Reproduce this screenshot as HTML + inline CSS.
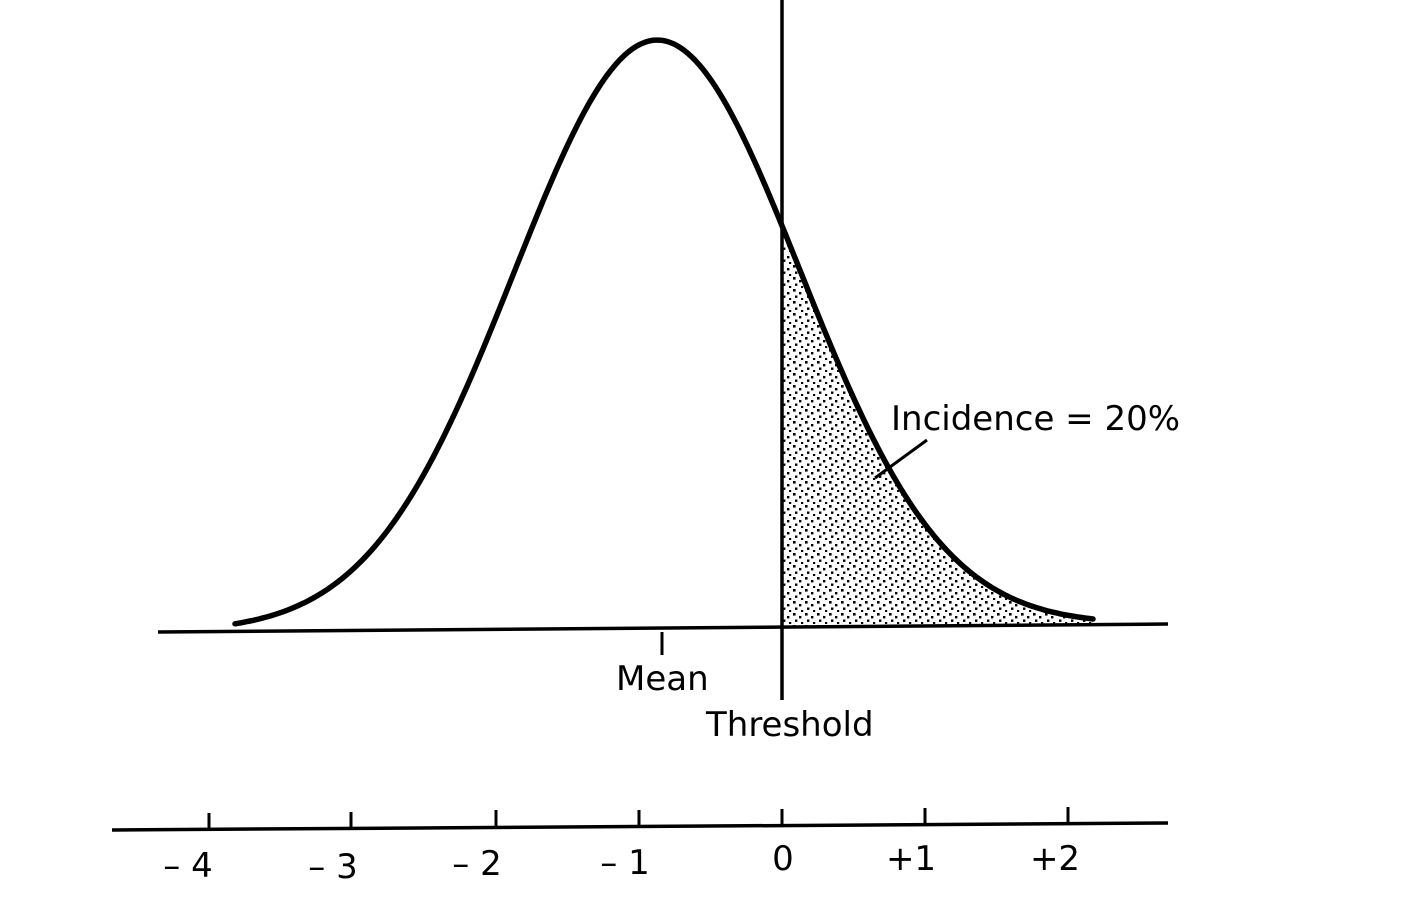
<!DOCTYPE html>
<html><head><meta charset="utf-8"><style>
html,body{margin:0;padding:0;background:#fff;}
svg{display:block}
text{font-family:"DejaVu Sans","Liberation Sans",sans-serif;fill:#000}
</style></head><body>
<svg id="s" width="1414" height="902" viewBox="0 0 1414 902">
<defs>
<pattern id="dots" width="12" height="12" patternUnits="userSpaceOnUse">
<rect x="1" y="1" width="2.6" height="2.6" fill="#000"/>
<rect x="7" y="4" width="2.4" height="2.4" fill="#000"/>
<rect x="3" y="7.5" width="2.4" height="2.4" fill="#000"/>
<rect x="9" y="10" width="2.2" height="2.2" fill="#000"/>
</pattern>
</defs>
<path id="shade" fill="url(#dots)" stroke="none"/>
<path id="curve" fill="none" stroke="#000" stroke-width="5.5" stroke-linecap="round"/>
<line x1="158" y1="632" x2="1168" y2="624" stroke="#000" stroke-width="3.5"/>
<line x1="782" y1="0" x2="782" y2="700" stroke="#000" stroke-width="3.5"/>
<line x1="662" y1="632" x2="662" y2="655" stroke="#000" stroke-width="3"/>
<line x1="875" y1="478" x2="927" y2="440" stroke="#000" stroke-width="3"/>
<text x="891" y="430" font-size="34">Incidence = 20%</text>
<text x="616" y="690" font-size="34">Mean</text>
<text x="706" y="736" font-size="34">Threshold</text>
<line x1="112" y1="830" x2="1168" y2="823" stroke="#000" stroke-width="3.5"/>
<g stroke="#000" stroke-width="3">
<line x1="209" y1="829" x2="209" y2="813"/>
<line x1="351" y1="828" x2="351" y2="812"/>
<line x1="496" y1="827" x2="496" y2="810"/>
<line x1="639" y1="826" x2="639" y2="810"/>
<line x1="782" y1="825" x2="782" y2="809"/>
<line x1="925" y1="824" x2="925" y2="808"/>
<line x1="1068" y1="823" x2="1068" y2="807"/>
</g>
<g font-size="34" text-anchor="middle">
<text x="188" y="877">– 4</text>
<text x="333" y="878">– 3</text>
<text x="477" y="875">– 2</text>
<text x="625" y="874">– 1</text>
<text x="783" y="870">0</text>
<text x="911" y="870">+1</text>
<text x="1055" y="870">+2</text>
</g>
</svg>
<script>
var mu=657,sg=143,H=588;
function y(x){var b=632-(x-158)*8/1010;var z=(x-mu)/sg;return b-H*Math.exp(-z*z/2);}
var d="",x;
for(x=235;x<=1095;x+=3){d+=(x==235?"M":"L")+x+" "+y(x).toFixed(1)+" ";}
document.getElementById("curve").setAttribute("d",d);
var s="M782 "+(632-624*8/1010).toFixed(1)+" ";
for(x=782;x<=1095;x+=3){s+="L"+x+" "+y(x).toFixed(1)+" ";}
s+="L1095 "+(632-937*8/1010).toFixed(1)+" Z";
document.getElementById("shade").setAttribute("d",s);
</script>
</body></html>
